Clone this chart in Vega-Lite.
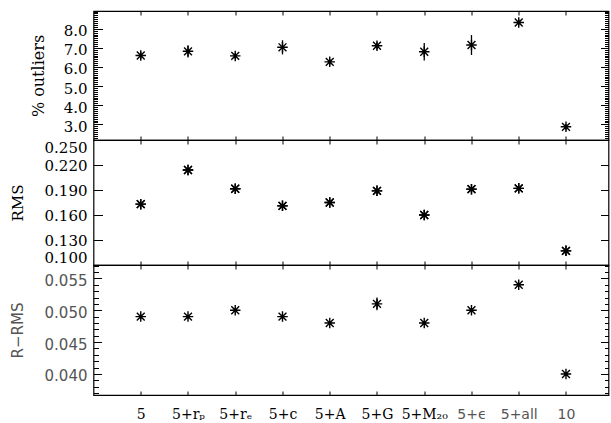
{
  "$schema": "https://vega.github.io/schema/vega-lite/v6.json",
  "padding": {"left": 8.5, "top": 5, "right": 0, "bottom": 0},
  "background": "white",
  "bounds": "flush",
  "spacing": 0,
  "config": {
    "view": {"stroke": "black", "strokeWidth": 1.2},
    "axis": {
      "domain": false, "grid": false, "tickColor": "black", "tickWidth": 1, "zindex": 1,
      "labelColor": "black", "labelFont": "DejaVu Serif", "labelFontSize": 15,
      "titleFont": "DejaVu Serif", "titleFontWeight": "normal", "titleColor": "black",
      "titleFontSize": 16, "labelOverlap": false
    }
  },
  "datasets": {
    "d": [
      {"pos": 1, "outl": 6.60, "outl_lo": 6.40, "outl_hi": 6.80, "rms": 0.173, "rrms": 0.049, "rrms_lo": 0.0487, "rrms_hi": 0.0493},
      {"pos": 2, "outl": 6.82, "outl_lo": 6.50, "outl_hi": 7.14, "rms": 0.214, "rrms": 0.049, "rrms_lo": 0.0487, "rrms_hi": 0.0493},
      {"pos": 3, "outl": 6.58, "outl_lo": 6.43, "outl_hi": 6.73, "rms": 0.1915, "rrms": 0.050, "rrms_lo": 0.0497, "rrms_hi": 0.0503},
      {"pos": 4, "outl": 7.03, "outl_lo": 6.66, "outl_hi": 7.40, "rms": 0.171, "rrms": 0.049, "rrms_lo": 0.0487, "rrms_hi": 0.0493},
      {"pos": 5, "outl": 6.27, "outl_lo": 6.12, "outl_hi": 6.42, "rms": 0.175, "rrms": 0.048, "rrms_lo": 0.0477, "rrms_hi": 0.0483},
      {"pos": 6, "outl": 7.11, "outl_lo": 6.91, "outl_hi": 7.31, "rms": 0.189, "rrms": 0.051, "rrms_lo": 0.0500, "rrms_hi": 0.0520},
      {"pos": 7, "outl": 6.80, "outl_lo": 6.34, "outl_hi": 7.26, "rms": 0.160, "rrms": 0.048, "rrms_lo": 0.0477, "rrms_hi": 0.0483},
      {"pos": 8, "outl": 7.15, "outl_lo": 6.63, "outl_hi": 7.67, "rms": 0.191, "rrms": 0.050, "rrms_lo": 0.0497, "rrms_hi": 0.0503},
      {"pos": 9, "outl": 8.33, "outl_lo": 8.18, "outl_hi": 8.48, "rms": 0.192, "rrms": 0.054, "rrms_lo": 0.0537, "rrms_hi": 0.0543},
      {"pos": 10, "outl": 2.87, "outl_lo": 2.72, "outl_hi": 3.02, "rms": 0.117, "rrms": 0.040, "rrms_lo": 0.0397, "rrms_hi": 0.0403}
    ]
  },
  "vconcat": [
    {
      "data": {"name": "d"},
      "width": 515, "height": 129,
      "layer": [
        {
          "mark": {"type": "rule", "color": "black", "strokeWidth": 1.3},
          "encoding": {
            "x": {"field": "pos", "type": "quantitative", "scale": {"domain": [0, 10.9], "nice": false, "zero": false},
                  "axis": {"orient": "bottom", "values": [1,2,3,4,5,6,7,8,9,10], "labels": false, "tickSize": -4, "title": null}},
            "y": {"field": "outl_lo", "type": "quantitative", "scale": {"domain": [2.18, 8.93], "nice": false, "zero": false},
                  "axis": {"orient": "left", "title": "% outliers", "titleX": -55, "titleBaseline": "middle",
                           "values": [2.2,2.3,2.4,2.5,2.6,2.7,2.8,2.9,3,3.1,3.2,3.3,3.4,3.5,3.6,3.7,3.8,3.9,4,4.1,4.2,4.3,4.4,4.5,4.6,4.7,4.8,4.9,5,5.1,5.2,5.3,5.4,5.5,5.6,5.7,5.8,5.9,6,6.1,6.2,6.3,6.4,6.5,6.6,6.7,6.8,6.9,7,7.1,7.2,7.3,7.4,7.5,7.6,7.7,7.8,7.9,8,8.1,8.2,8.3,8.4,8.5,8.6,8.7,8.8,8.9],
                           "labelExpr": "abs(datum.value - round(datum.value)) < 0.01 ? format(datum.value, '.1f') : ''",
                           "tickSize": {"condition": {"test": "abs(datum.value - round(datum.value)) < 0.01", "value": -9}, "value": -4},
                           "labelPadding": 15.5, "labelOffset": 2}},
            "y2": {"field": "outl_hi"}
          }
        },
        {
          "mark": {"type": "point", "shape": "M-1,0L1,0M0,-1L0,1M-0.75,-0.75L0.75,0.75M-0.75,0.75L0.75,-0.75", "size": 110, "filled": false, "stroke": "black", "strokeWidth": 1.4, "opacity": 1},
          "encoding": {
            "x": {"field": "pos", "type": "quantitative",
                  "axis": {"orient": "top", "values": [1,2,3,4,5,6,7,8,9,10], "labels": false, "tickSize": -4, "title": null}},
            "y": {"field": "outl", "type": "quantitative",
                  "axis": {"orient": "right", "title": null, "labels": false,
                           "values": [2.2,2.3,2.4,2.5,2.6,2.7,2.8,2.9,3,3.1,3.2,3.3,3.4,3.5,3.6,3.7,3.8,3.9,4,4.1,4.2,4.3,4.4,4.5,4.6,4.7,4.8,4.9,5,5.1,5.2,5.3,5.4,5.5,5.6,5.7,5.8,5.9,6,6.1,6.2,6.3,6.4,6.5,6.6,6.7,6.8,6.9,7,7.1,7.2,7.3,7.4,7.5,7.6,7.7,7.8,7.9,8,8.1,8.2,8.3,8.4,8.5,8.6,8.7,8.8,8.9],
                           "tickSize": {"condition": {"test": "abs(datum.value - round(datum.value)) < 0.01", "value": -8}, "value": -4}}}
          }
        }
      ],
      "resolve": {"axis": {"x": "independent", "y": "independent"}}
    },
    {
      "data": {"name": "d"},
      "width": 515, "height": 125,
      "layer": [
        {
          "mark": {"type": "point", "shape": "M-1,0L1,0M0,-1L0,1M-0.75,-0.75L0.75,0.75M-0.75,0.75L0.75,-0.75", "size": 110, "filled": false, "stroke": "black", "strokeWidth": 1.4, "opacity": 1},
          "encoding": {
            "x": {"field": "pos", "type": "quantitative", "scale": {"domain": [0, 10.9], "nice": false, "zero": false},
                  "axis": {"orient": "bottom", "values": [1,2,3,4,5,6,7,8,9,10], "labels": false, "tickSize": -4, "title": null}},
            "y": {"field": "rms", "type": "quantitative", "scale": {"domain": [0.1, 0.25], "nice": false, "zero": false},
                  "axis": {"orient": "left", "title": "RMS", "titleX": -76.5, "titleBaseline": "middle", "titleFontSize": 15,
                           "values": [0.1, 0.13, 0.16, 0.19, 0.22, 0.25], "format": ".3f", "labelFlush": true,
                           "tickSize": -9, "labelPadding": 15.5}}
          }
        },
        {
          "mark": {"type": "point", "shape": "M-1,0L1,0M0,-1L0,1M-0.75,-0.75L0.75,0.75M-0.75,0.75L0.75,-0.75", "size": 110, "filled": false, "stroke": "black", "strokeWidth": 1.4, "opacity": 1},
          "encoding": {
            "x": {"field": "pos", "type": "quantitative",
                  "axis": {"orient": "top", "values": [1,2,3,4,5,6,7,8,9,10], "labels": false, "tickSize": -4, "title": null}},
            "y": {"field": "rms", "type": "quantitative",
                  "axis": {"orient": "right", "title": null, "labels": false,
                           "values": [0.1, 0.13, 0.16, 0.19, 0.22, 0.25], "tickSize": -8}}
          }
        }
      ],
      "resolve": {"axis": {"x": "independent", "y": "independent"}}
    },
    {
      "data": {"name": "d"},
      "width": 515, "height": 130,
      "layer": [
        {
          "mark": {"type": "rule", "color": "black", "strokeWidth": 1.3},
          "encoding": {
            "x": {"field": "pos", "type": "quantitative", "scale": {"domain": [0, 10.9], "nice": false, "zero": false},
                  "axis": {"orient": "bottom", "values": [1,2,3,4,5,6,7,8,9,10], "tickSize": -4, "title": null,
                           "labelPadding": 16, "labelFontSize": 14,
                           "labelExpr": "['', '5', '5+rₚ', '5+rₑ', '5+c', '5+A', '5+G', '5+M₂₀', '5+ϵ', '5+all', '10'][datum.value]",
                           "labelFont": {"condition": {"test": "datum.value >= 8", "value": "DejaVu Sans"}, "value": "DejaVu Serif"},
                           "labelColor": {"condition": {"test": "datum.value >= 8", "value": "#555555"}, "value": "black"}}},
            "y": {"field": "rrms_lo", "type": "quantitative", "scale": {"domain": [0.0367, 0.0571], "nice": false, "zero": false},
                  "axis": {"orient": "left", "title": "R−RMS", "titleX": -76.5, "titleBaseline": "middle",
                           "titleFont": "DejaVu Sans", "titleColor": "#555555", "titleFontSize": 15,
                           "labelFont": "DejaVu Sans", "labelColor": "#555555", "labelFontSize": 15,
                           "values": [0.037,0.038,0.039,0.04,0.041,0.042,0.043,0.044,0.045,0.046,0.047,0.048,0.049,0.05,0.051,0.052,0.053,0.054,0.055,0.056,0.057],
                           "labelExpr": "abs(datum.value*200 - round(datum.value*200)) < 0.01 ? format(datum.value, '.3f') : ''",
                           "tickSize": {"condition": {"test": "abs(datum.value*200 - round(datum.value*200)) < 0.01", "value": -8}, "value": -5},
                           "labelPadding": 14.5, "labelOffset": 2}},
            "y2": {"field": "rrms_hi"}
          }
        },
        {
          "mark": {"type": "point", "shape": "M-1,0L1,0M0,-1L0,1M-0.75,-0.75L0.75,0.75M-0.75,0.75L0.75,-0.75", "size": 110, "filled": false, "stroke": "black", "strokeWidth": 1.4, "opacity": 1},
          "encoding": {
            "x": {"field": "pos", "type": "quantitative",
                  "axis": {"orient": "top", "values": [1,2,3,4,5,6,7,8,9,10], "labels": false, "tickSize": -4, "title": null}},
            "y": {"field": "rrms", "type": "quantitative",
                  "axis": {"orient": "right", "title": null, "labels": false,
                           "values": [0.037,0.038,0.039,0.04,0.041,0.042,0.043,0.044,0.045,0.046,0.047,0.048,0.049,0.05,0.051,0.052,0.053,0.054,0.055,0.056,0.057],
                           "tickSize": {"condition": {"test": "abs(datum.value*200 - round(datum.value*200)) < 0.01", "value": -8}, "value": -4}}}
          }
        }
      ],
      "resolve": {"axis": {"x": "independent", "y": "independent"}}
    }
  ]
}
